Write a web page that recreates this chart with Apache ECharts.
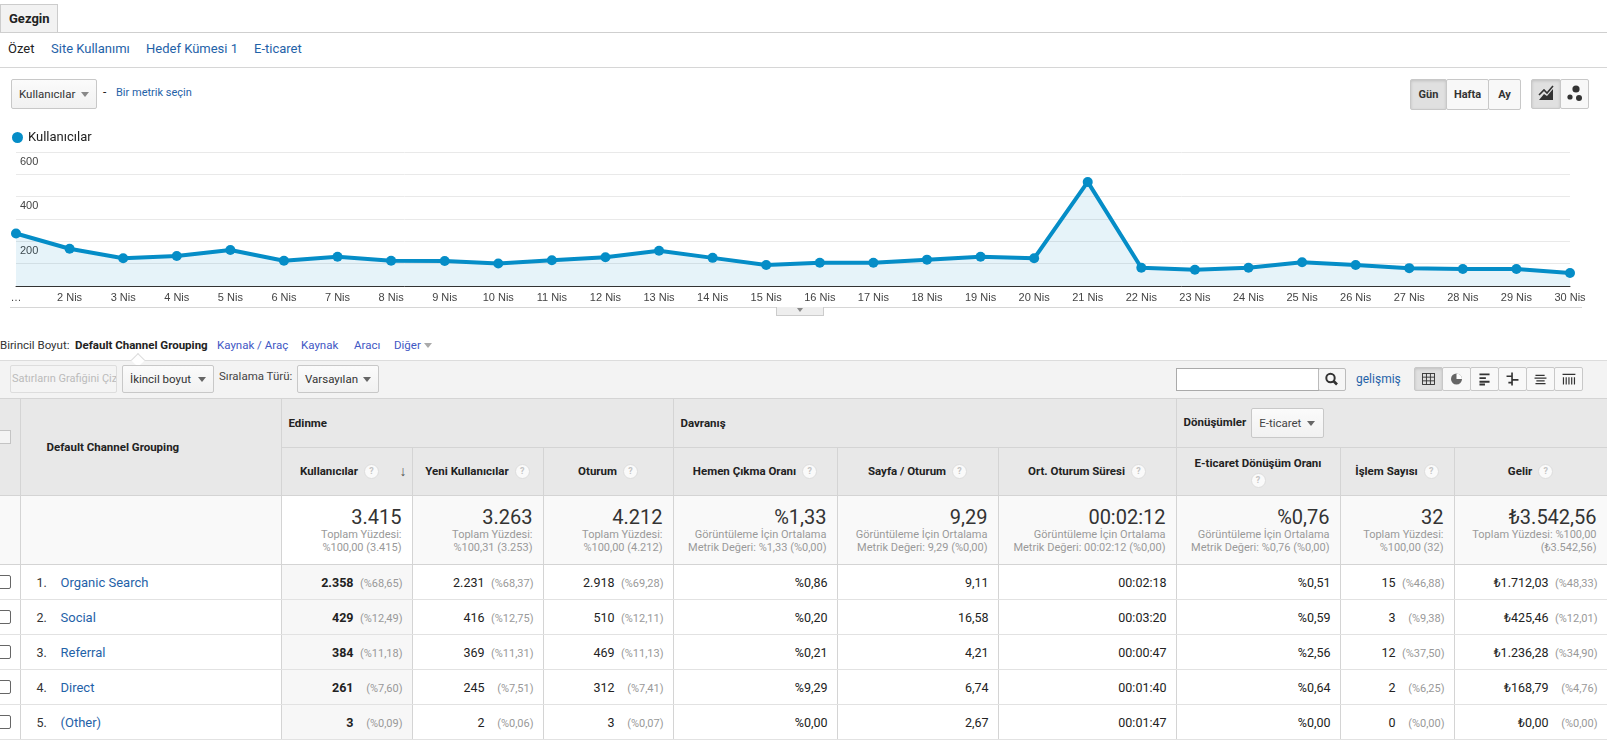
<!DOCTYPE html>
<html>
<head>
<meta charset="utf-8">
<script src="https://cdn.jsdelivr.net/npm/echarts@6/dist/echarts.min.js"></script>
<style>
  body { margin: 0; width: 1607px; height: 742px; overflow: hidden; position: relative; background: #fff;
         font-family: Roboto, Arial, sans-serif; color: #222; }
  .abs { position: absolute; }
  .btn { position: absolute; box-sizing: border-box; border: 1px solid #c8c8c8; border-radius: 2px; white-space: nowrap; overflow: hidden;
         background: linear-gradient(#fbfbfb, #f1f1f1); font-size: 12px; color: #333; }
  .tri { display: inline-block; width: 0; height: 0; border-left: 4px solid transparent;
         border-right: 4px solid transparent; border-top: 5px solid #666; vertical-align: middle; }
  .btn .tri { position: absolute; right: 7px; top: 50%; margin-top: -2px; }
  .link { color: #1f62a8; }
  .q { display: inline-block; width: 13px; height: 13px; border-radius: 50%; border: 1px solid #ddd; background: #fafafa;
       color: #c4c4c4; font-size: 9px; font-weight: bold; line-height: 13px; text-align: center; vertical-align: middle; margin-left: 6px; }
  table { position: absolute; left: 0; top: 398px; width: 1607px; border-collapse: collapse; table-layout: fixed; }
  td { padding: 0; border: 1px solid #d4d4d4; font-size: 12px; }
  .h1 td, .h2 td { background: #e8e8e8; font-weight: bold; font-size: 11.5px; color: #222; }
  .h2 td { text-align: center; position: relative; }
  .tot td { background: #f9f9f9; vertical-align: top; text-align: right; padding: 10px 10px 0 0; }
  .tot td.sel { background: #fff; }
  .big { font-size: 20px; line-height: 22px; color: #333; }
  .sub { font-size: 11px; line-height: 13px; color: #999; }
  .row td { text-align: right; padding-right: 9px; font-size: 12.5px; border-color: #e2e2e2 #d4d4d4; }
  .row td.sel { background: #f7f7f7; font-weight: bold; }
  .pct { display: inline-block; width: 44px; margin-left: 5px; text-align: right; font-size: 11px; color: #999; font-weight: normal; }
  .cb { position: absolute; left: -3px; width: 12px; height: 12px; border: 1px solid #666; border-radius: 2px; background: #fff; }
</style>
</head>
<body>
<!-- ust sekmeler -->
<div class="abs" style="left:0;top:4px;width:58px;height:28px;background:#f2f2f2;border:1px solid #ccc;border-bottom:none;box-sizing:border-box;font-weight:bold;font-size:13px;line-height:28px;padding-left:8px;">Gezgin</div>
<div class="abs" style="left:0;top:32px;width:1607px;height:1px;background:#cfcfcf;"></div>
<div class="abs" style="left:8px;top:41px;font-size:13px;">Özet</div>
<div class="abs link" style="left:51px;top:41px;font-size:13px;">Site Kullanımı</div>
<div class="abs link" style="left:146px;top:41px;font-size:13px;">Hedef Kümesi 1</div>
<div class="abs link" style="left:254px;top:41px;font-size:13px;">E-ticaret</div>
<div class="abs" style="left:0;top:67px;width:1607px;height:1px;background:#d6d6d6;"></div>

<div class="btn" style="left:11px;top:79px;width:86px;height:30px;line-height:28px;padding-left:7px;font-size:11.5px;">Kullanıcılar<span class="tri" style="border-top-color:#888;"></span></div>
<div class="abs" style="left:103px;top:85px;font-size:12px;">-</div>
<div class="abs link" style="left:116px;top:86px;font-size:11px;">Bir metrik seçin</div>

<div class="btn" style="left:1410px;top:79px;width:37px;height:31px;line-height:29px;text-align:center;font-weight:bold;font-size:11px;background:#e0e0e0;box-shadow:inset 0 1px 3px rgba(0,0,0,.15);">Gün</div>
<div class="btn" style="left:1446px;top:79px;width:43px;height:31px;line-height:29px;text-align:center;font-weight:bold;font-size:11px;background:#f8f8f8;">Hafta</div>
<div class="btn" style="left:1488px;top:79px;width:33px;height:31px;line-height:29px;text-align:center;font-weight:bold;font-size:11px;background:#f8f8f8;">Ay</div>
<div class="btn" style="left:1531px;top:79px;width:30px;height:30px;background:#e0e0e0;box-shadow:inset 0 1px 3px rgba(0,0,0,.15);">
  <svg width="28" height="28" viewBox="0 0 28 28"><path d="M7 20 L12 14 L15 16 L21 9 L21 20 Z" fill="#333"/><path d="M7 15 L12 10 L15 13 L21 6" stroke="#333" stroke-width="1.6" fill="none"/></svg></div>
<div class="btn" style="left:1560px;top:79px;width:29px;height:30px;background:#f8f8f8;">
  <svg width="27" height="28" viewBox="0 0 27 28"><circle cx="15" cy="9" r="3.6" fill="#333"/><circle cx="9" cy="17" r="2.6" fill="#333"/><circle cx="18" cy="18" r="3" fill="#333"/></svg></div>

<div id="chart" class="abs" style="left:0;top:115px;width:1607px;height:200px;"></div>
<div class="abs" style="left:10px;top:307px;width:1572px;height:1px;background:#d6d6d6;"></div>
<div class="abs" style="left:776px;top:307px;width:48px;height:9px;background:#eee;border:1px solid #ccc;border-top:none;box-sizing:border-box;text-align:center;line-height:4px;"><span class="tri" style="border-top-color:#888;border-left-width:3px;border-right-width:3px;border-top-width:4px;"></span></div>

<!-- birincil boyut -->
<div class="abs" style="left:0;top:338px;font-size:11.5px;color:#333;">Birincil Boyut:</div>
<div class="abs" style="left:75px;top:338px;font-size:11.5px;font-weight:bold;">Default Channel Grouping</div>
<div class="abs" style="left:217px;top:338px;font-size:11.5px;color:#4157c4;">Kaynak / Araç</div>
<div class="abs" style="left:301px;top:338px;font-size:11.5px;color:#4157c4;">Kaynak</div>
<div class="abs" style="left:354px;top:338px;font-size:11.5px;color:#4157c4;">Aracı</div>
<div class="abs" style="left:394px;top:338px;font-size:11.5px;color:#4157c4;">Diğer <span class="tri" style="border-top-color:#aaa;"></span></div>

<div class="abs" style="left:0;top:360px;width:1607px;height:38px;background:#f3f3f3;border-top:1px solid #dcdcdc;box-sizing:border-box;"></div>
<div class="abs" style="left:133px;top:355px;width:9px;height:9px;background:#fff;border-left:1px solid #dcdcdc;border-top:1px solid #dcdcdc;transform:rotate(45deg);"></div>
<div class="btn" style="left:10px;top:365px;width:107px;height:28px;line-height:26px;padding-left:1px;font-size:11px;color:#bbb;background:#f4f4f4;border-color:#ddd;">Satırların Grafiğini Çiz</div>
<div class="btn" style="left:122px;top:365px;width:92px;height:28px;line-height:26px;padding-left:7px;font-size:11.5px;">İkincil boyut<span class="tri"></span></div>
<div class="abs" style="left:219px;top:369px;font-size:11.5px;color:#444;">Sıralama Türü:</div>
<div class="btn" style="left:297px;top:365px;width:82px;height:28px;line-height:26px;padding-left:7px;font-size:11.5px;">Varsayılan<span class="tri"></span></div>

<div class="abs" style="left:1176px;top:368px;width:143px;height:23px;border:1px solid #aaa;box-sizing:border-box;background:#fff;"></div>
<div class="btn" style="left:1318px;top:368px;width:28px;height:23px;background:#f6f6f6;border-color:#bbb;">
  <svg width="26" height="21" viewBox="0 0 26 21"><circle cx="11.5" cy="9" r="4.2" stroke="#333" stroke-width="2" fill="none"/><path d="M14.5 12 L18 15.5" stroke="#333" stroke-width="2.6"/></svg></div>
<div class="abs link" style="left:1356px;top:372px;font-size:12px;">gelişmiş</div>
<div id="views" class="abs" style="left:1414px;top:367px;width:169px;height:24px;"></div>

<table id="tbl"></table>

<script>
// grafik verisi (Kullanıcılar, Nisan)
var dayLabels = ['…', '2 Nis', '3 Nis', '4 Nis', '5 Nis', '6 Nis', '7 Nis', '8 Nis', '9 Nis', '10 Nis',
  '11 Nis', '12 Nis', '13 Nis', '14 Nis', '15 Nis', '16 Nis', '17 Nis', '18 Nis', '19 Nis', '20 Nis',
  '21 Nis', '22 Nis', '23 Nis', '24 Nis', '25 Nis', '26 Nis', '27 Nis', '28 Nis', '29 Nis', '30 Nis'];
var dailyUsers = [235, 167, 124, 134, 161, 113, 131, 113, 112, 101,
  115, 129, 158, 126, 94, 104, 104, 118, 131, 124,
  466, 82, 73, 82, 106, 94, 80, 76, 76, 58];

// tablo verisi
var channels = ['Organic Search', 'Social', 'Referral', 'Direct', '(Other)'];
var usersVal = ['2.358', '429', '384', '261', '3'];
var usersPct = ['(%68,65)', '(%12,49)', '(%11,18)', '(%7,60)', '(%0,09)'];
var newUsersVal = ['2.231', '416', '369', '245', '2'];
var newUsersPct = ['(%68,37)', '(%12,75)', '(%11,31)', '(%7,51)', '(%0,06)'];
var sessionsVal = ['2.918', '510', '469', '312', '3'];
var sessionsPct = ['(%69,28)', '(%12,11)', '(%11,13)', '(%7,41)', '(%0,07)'];
var bounceRate = ['%0,86', '%0,20', '%0,21', '%9,29', '%0,00'];
var pagesPerSession = ['9,11', '16,58', '4,21', '6,74', '2,67'];
var avgDuration = ['00:02:18', '00:03:20', '00:00:47', '00:01:40', '00:01:47'];
var convRate = ['%0,51', '%0,59', '%2,56', '%0,64', '%0,00'];
var transVal = ['15', '3', '12', '2', '0'];
var transPct = ['(%46,88)', '(%9,38)', '(%37,50)', '(%6,25)', '(%0,00)'];
var revenueVal = ['₺1.712,03', '₺425,46', '₺1.236,28', '₺168,79', '₺0,00'];
var revenuePct = ['(%48,33)', '(%12,01)', '(%34,90)', '(%4,76)', '(%0,00)'];

var totalsBig = ['3.415', '3.263', '4.212', '%1,33', '9,29', '00:02:12', '%0,76', '32', '₺3.542,56'];
var totalsSub = [
  ['Toplam Yüzdesi:', '%100,00 (3.415)'],
  ['Toplam Yüzdesi:', '%100,31 (3.253)'],
  ['Toplam Yüzdesi:', '%100,00 (4.212)'],
  ['Görüntüleme İçin Ortalama', 'Metrik Değeri: %1,33 (%0,00)'],
  ['Görüntüleme İçin Ortalama', 'Metrik Değeri: 9,29 (%0,00)'],
  ['Görüntüleme İçin Ortalama', 'Metrik Değeri: 00:02:12 (%0,00)'],
  ['Görüntüleme İçin Ortalama', 'Metrik Değeri: %0,76 (%0,00)'],
  ['Toplam Yüzdesi:', '%100,00 (32)'],
  ['Toplam Yüzdesi: %100,00', '(₺3.542,56)']
];

var colWidths = [20, 261, 131, 131, 130, 164, 161, 178, 164, 114, 153];

var myChart = echarts.init(document.getElementById('chart'));
var option = {
  animation: false,
  legend: {
    left: 7, top: 11, icon: 'circle', itemWidth: 11, itemHeight: 11, itemGap: 6,
    textStyle: { fontSize: 13, color: '#222', fontFamily: 'Roboto, Arial' },
    data: ['Kullanıcılar']
  },
  grid: { left: 16, right: 37, top: 37, height: 134 },
  xAxis: {
    type: 'category', boundaryGap: false, data: dayLabels,
    axisLine: { lineStyle: { color: '#333', width: 1 } },
    axisTick: { show: false },
    axisLabel: { interval: 0, fontSize: 11, color: '#444', margin: 6, fontFamily: 'Arial, "Liberation Sans"' }
  },
  yAxis: {
    type: 'value', min: 0, max: 600, interval: 100,
    axisLine: { show: false }, axisTick: { show: false },
    splitLine: { lineStyle: { color: '#e9e9e9' } },
    axisLabel: {
      inside: true, margin: 4, verticalAlign: 'top', padding: [4, 0, 0, 0],
      fontSize: 11, color: '#444', fontFamily: 'Arial, "Liberation Sans"',
      formatter: function (v) { return (v > 0 && v % 200 === 0) ? String(v) : ''; }
    }
  },
  series: [{
    name: 'Kullanıcılar', type: 'line', data: dailyUsers,
    symbol: 'circle', symbolSize: 10, showSymbol: true,
    lineStyle: { color: '#058dc7', width: 4 },
    itemStyle: { color: '#058dc7' },
    // yari saydam alan, etiketler altindan gorunsun
    areaStyle: { color: '#058dc7', opacity: 0.1 }
  }]
};
myChart.setOption(option);

// gorunum ikonlari
var icons = [
  '<rect x="7" y="6" width="13" height="12" fill="none" stroke="#333"/><path d="M7 10h13M7 14h13M11.3 6v12M15.6 6v12" stroke="#333"/>',
  '<circle cx="13.5" cy="12" r="6" fill="#666"/><path d="M13.5 12V6A6 6 0 0 1 19.5 12Z" fill="#fff"/>',
  '<path d="M8 7h11M8 11h7M8 15h11M8 18h6" stroke="#333" stroke-width="2"/>',
  '<path d="M13 5v14M7 9h6M13 13h7M9 16h4" stroke="#333" stroke-width="1.8"/>',
  '<path d="M8 8h10M7 11h13M9 14h9M8 17h11" stroke="#333" stroke-width="1.5"/>',
  '<path d="M7 7h14" stroke="#333" stroke-width="1.5"/><path d="M8 10v8M11 10v8M14 10v8M17 10v8M20 10v8" stroke="#333" stroke-width="1.3"/>'
];
var vh = '';
icons.forEach(function (ic, i) {
  vh += '<div class="btn" style="left:' + (i * 28) + 'px;top:0;width:29px;height:24px;' +
    (i === 0 ? 'background:#e0e0e0;box-shadow:inset 0 1px 3px rgba(0,0,0,.15);' : 'background:#f8f8f8;') +
    '"><svg width="27" height="22" viewBox="0 0 27 24">' + ic + '</svg></div>';
});
document.getElementById('views').innerHTML = vh;

// tablo
var h = '<colgroup>';
colWidths.forEach(function (w) { h += '<col style="width:' + w + 'px">'; });
h += '</colgroup>';
h += '<tr class="h1" style="height:49px">' +
  '<td rowspan="2" style="position:relative;border-left:none;"><div style="position:absolute;left:-3px;top:31px;width:12px;height:12px;border:1px solid #c4c4c4;background:#f4f4f4;"></div></td>' +
  '<td rowspan="2" style="padding-left:26px;">Default Channel Grouping</td>' +
  '<td colspan="3" style="padding-left:7px;">Edinme</td>' +
  '<td colspan="3" style="padding-left:7px;">Davranış</td>' +
  '<td colspan="3" style="padding-left:7px;">Dönüşümler' +
  '<span class="btn" style="position:relative;display:inline-block;left:0;top:0;margin-left:5px;width:73px;height:30px;line-height:28px;padding-left:7px;font-weight:normal;font-size:11.5px;color:#444;vertical-align:middle;">E-ticaret<span class="tri" style="right:8px;"></span></span></td></tr>';
h += '<tr class="h2" style="height:48px">' +
  '<td style="padding-right:14px;">Kullanıcılar<span class="q">?</span><span style="position:absolute;right:5px;top:15px;font-size:14px;color:#555;font-weight:normal;">&#8595;</span></td>' +
  '<td>Yeni Kullanıcılar<span class="q">?</span></td>' +
  '<td>Oturum<span class="q">?</span></td>' +
  '<td>Hemen Çıkma Oranı<span class="q">?</span></td>' +
  '<td>Sayfa / Oturum<span class="q">?</span></td>' +
  '<td>Ort. Oturum Süresi<span class="q">?</span></td>' +
  '<td style="line-height:17px;">E-ticaret Dönüşüm Oranı<br><span class="q" style="margin-left:0;">?</span></td>' +
  '<td>İşlem Sayısı<span class="q">?</span></td>' +
  '<td>Gelir<span class="q">?</span></td></tr>';
h += '<tr class="tot" style="height:69px"><td style="border-left:none;"></td><td></td>';
totalsBig.forEach(function (b, i) {
  h += '<td' + (i === 0 ? ' class="sel"' : '') + '><div class="big">' + b + '</div><div class="sub">' +
    totalsSub[i][0] + '<br>' + totalsSub[i][1] + '</div></td>';
});
h += '</tr>';
channels.forEach(function (c, i) {
  h += '<tr class="row" style="height:35px">' +
    '<td style="position:relative;border-left:none;"><div class="cb" style="top:10px;"></div></td>' +
    '<td style="text-align:left;padding-left:16px;"><span style="display:inline-block;width:24px;color:#333;">' + (i + 1) + '.</span><span class="link" style="font-size:13px;">' + c + '</span></td>' +
    '<td class="sel">' + usersVal[i] + '<span class="pct">' + usersPct[i] + '</span></td>' +
    '<td>' + newUsersVal[i] + '<span class="pct">' + newUsersPct[i] + '</span></td>' +
    '<td>' + sessionsVal[i] + '<span class="pct">' + sessionsPct[i] + '</span></td>' +
    '<td>' + bounceRate[i] + '</td>' +
    '<td>' + pagesPerSession[i] + '</td>' +
    '<td>' + avgDuration[i] + '</td>' +
    '<td>' + convRate[i] + '</td>' +
    '<td>' + transVal[i] + '<span class="pct">' + transPct[i] + '</span></td>' +
    '<td>' + revenueVal[i] + '<span class="pct">' + revenuePct[i] + '</span></td></tr>';
});
document.getElementById('tbl').innerHTML = h;
</script>
</body>
</html>
